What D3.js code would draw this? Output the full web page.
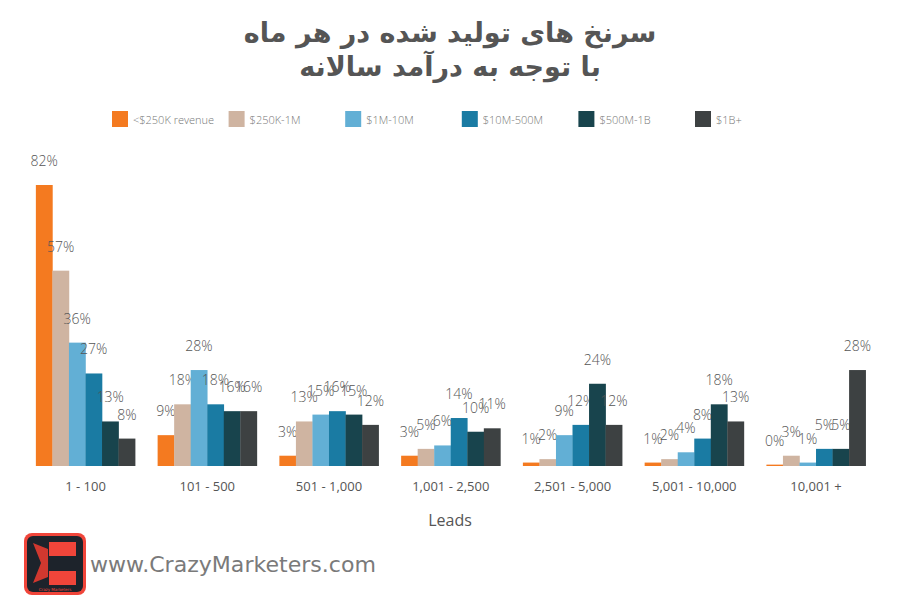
<!DOCTYPE html>
<html><head><meta charset="utf-8">
<script src="https://cdn.jsdelivr.net/npm/d3@7"></script>
<style>body{margin:0;background:#fff}svg{display:block}</style>
</head><body>
<svg id="chart" width="900" height="600"></svg>
<script>
const categories = ["1 - 100","101 - 500","501 - 1,000","1,001 - 2,500","2,501 - 5,000","5,001 - 10,000","10,001 +"];
const seriesNames = ["<$250K revenue","$250K-1M","$1M-10M","$10M-500M","$500M-1B","$1B+"];
const colors = ["#f47a20","#cfb4a1","#62afd5","#1a7ba3","#18444d","#3d4142"];
const s250k = [82, 9, 3, 3, 1, 1, 0.4];
const s1m   = [57, 18, 13, 5, 2, 2, 3];
const s10m  = [36, 28, 15, 6, 9, 4, 1];
const s500m = [27, 18, 16, 14, 12, 8, 5];
const s1b   = [13, 16, 15, 10, 24, 18, 5];
const s1bp  = [8, 16, 12, 11, 12, 13, 28];
const series = [s250k, s1m, s10m, s500m, s1b, s1bp];
const titleLines = ["سرنخ های تولید شده در هر ماه","با توجه به درآمد سالانه"];
const xTitle = "Leads";

const svg = d3.select("#chart");
const baseY = 466;
const x0 = d3.scaleBand().domain(categories).range([24.6, 876.9]).paddingInner(0.185).paddingOuter(0.0925);
const x1 = d3.scaleBand().domain(d3.range(series.length)).range([0, x0.bandwidth()]);
const y = d3.scaleLinear().domain([0, 82]).range([baseY, 185]);

// title
svg.append("g").selectAll("text").data(titleLines).join("text")
  .attr("x", 450).attr("y", (d,i)=>42 + i*34)
  .attr("text-anchor","middle").attr("direction","rtl")
  .attr("font-family","'DejaVu Sans', sans-serif").attr("font-weight","bold")
  .attr("font-size", 27).attr("fill","#555").text(d=>d);

// legend
const legendX = d3.scaleLinear().domain([0,5]).range([112, 695]);
const lg = svg.append("g").selectAll("g").data(seriesNames).join("g")
  .attr("transform",(d,i)=>`translate(${legendX(i)},111)`);
lg.append("rect").attr("width",16).attr("height",16).attr("fill",(d,i)=>colors[i]);
lg.append("text").attr("x",21).attr("y",12.5).attr("font-family","'Open Sans', sans-serif")
  .attr("font-weight",300).attr("font-size",11).attr("fill","#777").text(d=>d);

// bars
const groups = svg.append("g").selectAll("g").data(categories).join("g")
  .attr("transform", d=>`translate(${x0(d)},0)`);
const cells = groups.selectAll("g").data((c,ci)=>series.map((s,si)=>({si, v:s[ci]}))).join("g");
cells.append("rect")
  .attr("x", d=>x1(d.si)).attr("width", x1.bandwidth()+0.3)
  .attr("y", d=>y(d.v)).attr("height", d=>baseY - y(d.v))
  .attr("fill", d=>colors[d.si]);
cells.append("text")
  .attr("x", d=>x1(d.si)+x1.bandwidth()/2).attr("y", d=>y(d.v)-19)
  .attr("text-anchor","middle").attr("font-family","'Open Sans', sans-serif")
  .attr("font-weight",300).attr("font-size",14).attr("fill","#555").text(d=>Math.round(d.v)+"%");

// x axis
const xAxis = d3.axisBottom(x0).tickSize(0).tickPadding(16);
const ax = svg.append("g").attr("transform",`translate(0,${baseY})`).call(xAxis);
ax.select(".domain").remove();
ax.selectAll("text").attr("font-family","'Open Sans', sans-serif").attr("font-size",13).attr("fill","#555");

svg.append("text").attr("x",450).attr("y",526).attr("text-anchor","middle")
  .attr("font-family","'Open Sans', sans-serif").attr("font-size",16).attr("fill","#555").text(xTitle);

// logo
const logo = svg.append("g").attr("transform","translate(24,533)");
logo.append("rect").attr("width",62).attr("height",62).attr("rx",8).attr("fill","#f0453a");
logo.append("rect").attr("x",3).attr("y",3).attr("width",56).attr("height",56).attr("rx",6).attr("fill","#1d232b");
logo.append("rect").attr("x",25).attr("y",9).attr("width",27).attr("height",14).attr("fill","#f0453a");
logo.append("rect").attr("x",25).attr("y",38).attr("width",27).attr("height",14).attr("fill","#f0453a");
logo.append("path").attr("d","M9,10 L24,16 L24,44 L9,50 L17,30 Z").attr("fill","#d0382f");
logo.append("text").attr("x",31).attr("y",58).attr("text-anchor","middle").attr("font-size",4)
  .attr("font-family","'DejaVu Sans', sans-serif").attr("fill","#f0453a").text("Crazy Marketers");
svg.append("text").attr("x",90).attr("y",572).attr("textLength",286).attr("lengthAdjust","spacingAndGlyphs")
  .attr("font-family","'DejaVu Sans', sans-serif").attr("font-size",22).attr("fill","#7a7a7a")
  .text("www.CrazyMarketers.com");
</script>
</body></html>
